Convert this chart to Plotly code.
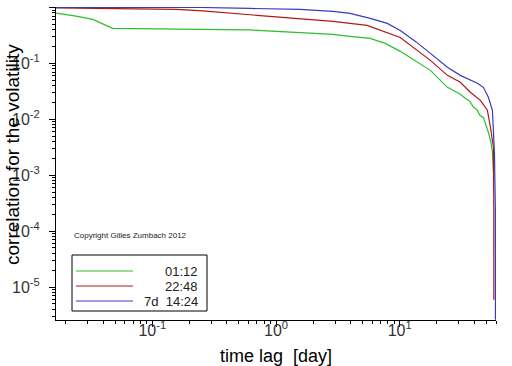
import plotly.graph_objects as go
import math

# ---- data (time lag in days, correlation) ----
lag_green = [0.01667, 0.0236, 0.033, 0.0479, 0.2425, 0.616, 0.846, 1.56, 2.89, 3.97,
             5.77, 7.64, 10.1, 17.7, 24.3, 30.9, 34.0, 36.5, 39.4, 42.0, 44.5, 47.4,
             50.0, 52.1, 54.5, 56.1, 57.2]
corr_green = [0.791, 0.705, 0.610, 0.422, 0.405, 0.396, 0.380, 0.358, 0.330, 0.303,
              0.279, 0.228, 0.164, 0.075, 0.0373, 0.028, 0.0235, 0.0215, 0.0165, 0.0150,
              0.0118, 0.0108, 0.0078, 0.0058, 0.0040, 0.00260, 0.00105]

lag_red = [0.01667, 0.0397, 0.158, 0.256, 0.449, 0.846, 1.56, 2.89, 5.45, 6.95, 10.1,
           17.7, 24.3, 30.9, 37.2, 44.9, 51.1, 54.1, 57.2, 57.6, 57.6]
corr_red = [0.98, 0.96, 0.921, 0.866, 0.781, 0.691, 0.636, 0.562, 0.477, 0.388, 0.291,
            0.113, 0.061, 0.0458, 0.0304, 0.0218, 0.0145, 0.0072, 0.00316, 0.000237, 5.9e-6]

lag_blue = [0.01667, 0.2425, 0.616, 1.56, 2.89, 3.97, 5.77, 7.93, 10.1, 13.4, 17.7,
            24.3, 30.9, 37.2, 42.4, 47.4, 52.1, 56.1, 57.2, 58.3, 59.3, 59.4]
corr_blue = [1.0, 1.0, 0.96, 0.921, 0.848, 0.781, 0.636, 0.518, 0.388, 0.247, 0.151,
             0.085, 0.061, 0.0497, 0.044, 0.0373, 0.0247, 0.0145, 0.0072, 0.00247,
             0.000237, 2.6e-6]

series_names = ["01:12", "22:48", "7d  14:24"]
series_colors = ["#2cbf2c", "#b01818", "#3a3ac0"]

y_tick_exps = [0, -1, -2, -3, -4, -5]
x_tick_exps = [-1, 0, 1]

x_title = "time lag  [day]"
y_title = "correlation for the volatility"
copyright_text = "Copyright Gilles Zumbach 2012"

def pow_label(e):
    return "10<sup>%s</sup>" % (str(e) if e >= 0 else "-" + str(-e))

fig = go.Figure()
for xs, ys, name, col in zip([lag_green, lag_red, lag_blue],
                             [corr_green, corr_red, corr_blue],
                             series_names, series_colors):
    fig.add_trace(go.Scatter(x=xs, y=ys, mode="lines", name=name,
                             line=dict(color=col, width=1.2), showlegend=False))

font_family = "Liberation Sans, Arial, sans-serif"
minor_x = [m * 10 ** e for e in range(-2, 2) for m in range(2, 10)]
minor_y = [m * 10 ** e for e in range(-6, 0) for m in range(2, 10)]

L, R, T, B = 56, 16, 7, 46
W, H = 512, 366
PW, PH = W - L - R, H - T - B

fig.update_layout(
    width=W, height=H,
    margin=dict(l=L, r=R, t=T, b=B, autoexpand=False),
    paper_bgcolor="white", plot_bgcolor="white",
    font=dict(family=font_family, color="#111"),
    xaxis=dict(type="log", range=[-math.log10(60), math.log10(60)], automargin=False,
               showgrid=False, zeroline=False, showline=True, linecolor="black",
               linewidth=1, ticks="outside", ticklen=6, tickcolor="black",
               tickmode="array", tickvals=[10 ** e for e in x_tick_exps],
               ticktext=[pow_label(e) for e in x_tick_exps],
               tickfont=dict(size=16, color="#333"), ticklabelstandoff=-10,
               minor=dict(tickmode="array", tickvals=minor_x, ticks="outside",
                          ticklen=3, tickcolor="black", showgrid=False)),
    yaxis=dict(type="log", range=[-5.59, 0.008], automargin=False,
               showgrid=False, zeroline=False, showline=True, linecolor="black",
               linewidth=1, ticks="outside", ticklen=6, tickcolor="black",
               tickmode="array", tickvals=[10 ** e for e in y_tick_exps],
               ticktext=[pow_label(e) for e in y_tick_exps],
               tickfont=dict(size=16, color="#333"), ticklabelstandoff=6,
               minor=dict(tickmode="array", tickvals=minor_y, ticks="outside",
                          ticklen=3, tickcolor="black", showgrid=False)),
)

def px_x(p):
    return (p - L) / float(PW)

def px_y(p):
    return (H - B - p) / float(PH)

# axis titles as annotations
fig.add_annotation(xref="paper", yref="paper", x=px_x(276), y=px_y(356),
                   text=x_title, showarrow=False, xanchor="center", yanchor="middle",
                   font=dict(size=18, color="black"))
fig.add_annotation(xref="paper", yref="paper", x=px_x(12), y=px_y(155),
                   text=y_title, showarrow=False, textangle=-90,
                   xanchor="center", yanchor="middle",
                   font=dict(size=19, color="black"))

# custom legend box
fig.add_shape(type="rect", xref="paper", yref="paper",
              x0=px_x(72), x1=px_x(207), y0=px_y(311), y1=px_y(255),
              line=dict(color="black", width=1), fillcolor="white")
for i, (name, col) in enumerate(zip(series_names, series_colors)):
    yy = px_y(271 + 15 * i)
    fig.add_shape(type="line", xref="paper", yref="paper",
                  x0=px_x(76), x1=px_x(133), y0=yy, y1=yy,
                  line=dict(color=col, width=1))
    fig.add_annotation(xref="paper", yref="paper", x=px_x(200), y=yy,
                       text=name, showarrow=False, xanchor="right", yanchor="middle",
                       font=dict(size=13, color="#222"))

fig.add_annotation(xref="paper", yref="paper", x=px_x(72), y=px_y(235),
                   text=copyright_text, showarrow=False,
                   xanchor="left", yanchor="middle", font=dict(size=8, color="#222"))

fig.write_html("out.html", config={"displayModeBar": False},
               post_script="document.body.style.margin='0px';document.body.style.padding='0px';")
